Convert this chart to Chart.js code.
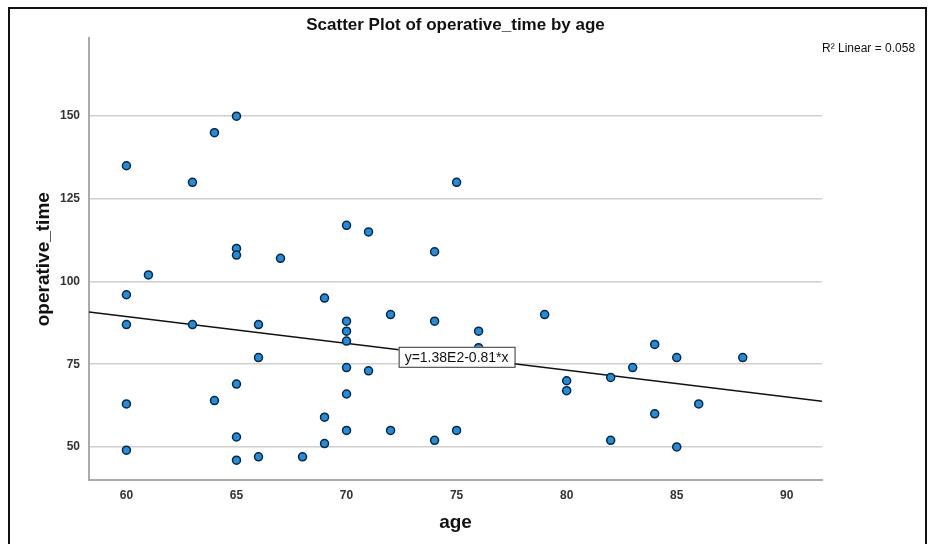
<!DOCTYPE html>
<html>
<head>
<meta charset="utf-8">
<script src="https://cdn.jsdelivr.net/npm/chart.js@4.4.1/dist/chart.umd.min.js"></script>
<style>
  html, body { margin: 0; padding: 0; background: #fff; }
  #wrap { width: 932px; height: 544px; position: relative; }
</style>
</head>
<body>
<div id="wrap"><canvas id="chart"></canvas></div>
<script>
// ages and operative times, one entry per case
const ages = [
  60, 60, 60, 60, 60, 61, 63, 63, 64, 64,
  65, 65, 65, 65, 65, 65, 66, 66, 66, 67,
  68, 69, 69, 69, 70, 70, 70, 70, 70, 70,
  70, 71, 71, 72, 72, 74, 74, 74, 75, 75,
  76, 76, 79, 80, 80, 82, 82, 83, 84, 84,
  85, 85, 86, 88,
];
const operativeTimes = [
  135, 96, 87, 63, 49, 102, 130, 87, 145, 64,
  150, 110, 108, 69, 53, 46, 87, 77, 47, 107,
  47, 95, 59, 51, 117, 88, 85, 82, 74, 66,
  55, 115, 73, 90, 55, 109, 88, 52, 130, 55,
  85, 80, 90, 70, 67, 71, 52, 74, 81, 60,
  77, 50, 63, 77,
];
const xTicks = [60, 65, 70, 75, 80, 85, 90];
const yTicks = [50, 75, 100, 125, 150];
const xRange = [58.3, 91.6];
const yRange = [40, 173.5];
// fitted line y = 1.38E2 - 0.81 * x, R^2 = 0.058
const fitIntercept = 138;
const fitSlope = -0.81;
const fitLabelAge = 75;
const rSquared = '0.058';

const points = ages.map((a, i) => ({ x: a, y: operativeTimes[i] }));
const fitLine = xRange.map((x) => ({ x, y: fitIntercept + fitSlope * x }));

const FONT = 'Liberation Sans, Arial, sans-serif';
const tickFont = { family: FONT, size: 12, weight: 'bold' };

const annotate = {
  id: 'annotate',
  afterDraw(chart) {
    const { ctx, scales } = chart;
    ctx.save();
    // outer frame
    ctx.strokeStyle = '#111';
    ctx.lineWidth = 2;
    ctx.strokeRect(9, 8, 917, 560);

    // R squared note, top right
    ctx.fillStyle = '#111';
    ctx.font = '12px ' + FONT;
    ctx.textBaseline = 'middle';
    ctx.textAlign = 'left';
    ctx.fillText('R² Linear = ' + rSquared, 822, 49);

    // equation label sitting on the fit line
    const label = 'y=1.38E2-0.81*x';
    const cx = scales.x.getPixelForValue(fitLabelAge);
    const cy = scales.y.getPixelForValue(fitIntercept + fitSlope * fitLabelAge);
    ctx.font = '14px ' + FONT;
    const w = ctx.measureText(label).width + 12;
    const h = 20;
    ctx.fillStyle = '#fff';
    ctx.fillRect(cx - w / 2, cy - h / 2, w, h);
    ctx.strokeStyle = '#333';
    ctx.lineWidth = 1;
    ctx.strokeRect(cx - w / 2 + 0.5, cy - h / 2 + 0.5, w, h);
    ctx.fillStyle = '#111';
    ctx.textAlign = 'center';
    ctx.fillText(label, cx, cy + 1);
    ctx.restore();
  },
};

new Chart(document.getElementById('chart'), {
  data: {
    datasets: [
      {
        type: 'line',
        label: 'Linear fit',
        data: fitLine,
        borderColor: '#111',
        borderWidth: 1.5,
        pointRadius: 0,
        fill: false,
        order: 2,
      },
      {
        type: 'scatter',
        label: 'operative_time',
        data: points,
        backgroundColor: '#1b8fe8',
        borderColor: '#0e2536',
        borderWidth: 1.5,
        pointRadius: 4,
        order: 1,
      },
    ],
  },
  options: {
    responsive: true,
    maintainAspectRatio: false,
    animation: false,
    layout: { padding: { left: 0, top: 0, right: 110, bottom: 0 } },
    plugins: {
      legend: { display: false },
      tooltip: { enabled: false },
      title: {
        display: true,
        text: 'Scatter Plot of operative_time by age',
        fullSize: false,
        color: '#111',
        font: { family: FONT, size: 17, weight: 'bold' },
        padding: { top: 15, bottom: 3 },
      },
    },
    scales: {
      x: {
        type: 'linear',
        min: xRange[0],
        max: xRange[1],
        afterBuildTicks: (s) => { s.ticks = xTicks.map((v) => ({ value: v })); },
        afterFit: (s) => { s.height = 64; },
        grid: { display: false, drawTicks: false },
        border: { color: '#aaa', width: 2 },
        ticks: { color: '#333', font: tickFont, padding: 8 },
        title: {
          display: true,
          text: 'age',
          color: '#111',
          font: { family: FONT, size: 19, weight: 'bold' },
          padding: { top: 0, bottom: 10 },
        },
      },
      y: {
        type: 'linear',
        min: yRange[0],
        max: yRange[1],
        afterBuildTicks: (s) => { s.ticks = yTicks.map((v) => ({ value: v })); },
        afterFit: (s) => { s.width = 89; },
        grid: { color: '#cfcfcf', lineWidth: 1.5, drawTicks: false },
        border: { color: '#aaa', width: 2 },
        ticks: { color: '#333', font: tickFont, padding: 9 },
        title: {
          display: true,
          text: 'operative_time',
          color: '#111',
          font: { family: FONT, size: 19, weight: 'bold' },
          padding: 32,
        },
      },
    },
  },
  plugins: [annotate],
});
</script>
</body>
</html>
